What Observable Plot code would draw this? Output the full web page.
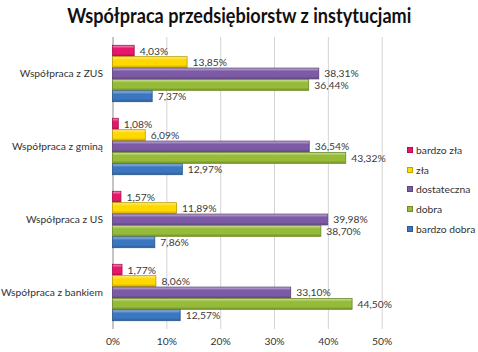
<!DOCTYPE html>
<html><head><meta charset="utf-8">
<script src="https://cdn.jsdelivr.net/npm/d3@7"></script>
<script src="https://cdn.jsdelivr.net/npm/@observablehq/plot@0.6"></script>
<style>
body{margin:0;background:#fff;}
#wrap{position:relative;width:478px;height:352px;overflow:hidden;font-family:Lato,sans-serif;}
#title{position:absolute;left:0;top:3px;width:478px;text-align:center;font-weight:bold;font-size:20px;color:#111;white-space:nowrap;}
#title span{display:inline-block;transform-origin:center;}
#chart{position:absolute;left:0;top:30px;}
#legend{position:absolute;left:407px;top:143px;font-size:10.3px;color:#333;}
#legend .item{height:19.7px;line-height:14px;white-space:nowrap;}
#legend .sw{display:inline-block;width:6px;height:6px;margin-right:3px;vertical-align:1px;}
</style>
</head><body>
<div id="wrap">
  <div id="title"><span>Współpraca przedsiębiorstw z instytucjami</span></div>
  <div id="chart"></div>
  <div id="legend"></div>
</div>
<script>
const categories = ["Współpraca z ZUS", "Współpraca z gminą", "Współpraca z US", "Współpraca z bankiem"];
const series = ["bardzo zła", "zła", "dostateczna", "dobra", "bardzo dobra"];
const bardzoZla = [4.03, 1.08, 1.57, 1.77];
const zla = [13.85, 6.09, 11.89, 8.06];
const dostateczna = [38.31, 36.54, 39.98, 33.10];
const dobra = [36.44, 43.32, 38.70, 44.50];
const bardzoDobra = [7.37, 12.97, 7.86, 12.57];
const gridTicks = [10, 20, 30, 40, 50];

const colors = ["#e8176c", "#ffd800", "#7d5aa6", "#95bb38", "#3b76c0"];
const values = [bardzoZla, zla, dostateczna, dobra, bardzoDobra];

const rows = categories.flatMap((c, ci) => series.map((s, si) => ({cat: c, series: s, si, value: values[si][ci]})));
const fmt = v => v.toFixed(2).replace(".", ",") + "%";

const H = 322, MT = 7, MB = 23;
const padIn = 0.22, padOut = 0.11;
const bw = (H - MT - MB) / 4 * (1 - padIn);
const bh = bw / 5;

// title fit
const tspan = document.querySelector("#title span");
const tw = tspan.getBoundingClientRect().width;
tspan.style.transform = `scaleX(${344 / tw})`;

const plot = Plot.plot({
  width: 478,
  height: H,
  marginTop: MT,
  marginBottom: MB,
  marginLeft: 112.5,
  marginRight: 96.3,
  style: {fontFamily: "Lato, sans-serif", fontSize: "10.3px", color: "#333", background: "#fff"},
  x: {domain: [0, 50], ticks: 5, tickFormat: d => d + "%", tickSize: 0, tickPadding: 8, label: null},
  y: {domain: categories, paddingInner: padIn, paddingOuter: padOut, tickSize: 0, tickPadding: 10, label: null},
  marks: [
    Plot.ruleX(gridTicks, {stroke: "#d4d4d4", strokeWidth: 1}),
    Plot.ruleX([0], {stroke: "#8a8a8a", strokeWidth: 1}),
    ...series.map((s, si) => Plot.barX(rows.filter(r => r.si === si), {
      x: "value", y: "cat",
      fill: `url(#grad${si})`,
      stroke: d3.color(colors[si]).darker(0.9).formatHex(),
      strokeWidth: 0.8,
      insetTop: si * bh + 0.3,
      insetBottom: (4 - si) * bh + 0.3
    })),
    ...series.map((s, si) => Plot.text(rows.filter(r => r.si === si), {
      x: "value", y: "cat",
      text: d => fmt(d.value),
      dy: (si - 2) * bh,
      dx: 5,
      textAnchor: "start",
      fill: "#3a3a3a",
      fontSize: 10.3
    }))
  ]
});

const svg = d3.select(plot);
const defs = svg.insert("defs", ":first-child");
colors.forEach((c, i) => {
  const g = defs.append("linearGradient").attr("id", `grad${i}`).attr("x1", 0).attr("y1", 0).attr("x2", 0).attr("y2", 1);
  const base = d3.color(c);
  g.append("stop").attr("offset", "0%").attr("stop-color", d3.interpolateRgb(c, "#fff")(0.55));
  g.append("stop").attr("offset", "30%").attr("stop-color", base.formatHex());
  g.append("stop").attr("offset", "75%").attr("stop-color", base.formatHex());
  g.append("stop").attr("offset", "100%").attr("stop-color", base.darker(0.7).formatHex());
});
document.getElementById("chart").appendChild(plot);

const legend = document.getElementById("legend");
series.forEach((s, i) => {
  const it = document.createElement("div");
  it.className = "item";
  const sw = document.createElement("span");
  sw.className = "sw";
  sw.style.background = colors[i];
  sw.style.border = "0.5px solid " + d3.color(colors[i]).darker(0.8).formatHex();
  sw.style.boxSizing = "border-box";
  it.appendChild(sw);
  it.appendChild(document.createTextNode(s));
  legend.appendChild(it);
});
</script>
</body></html>
